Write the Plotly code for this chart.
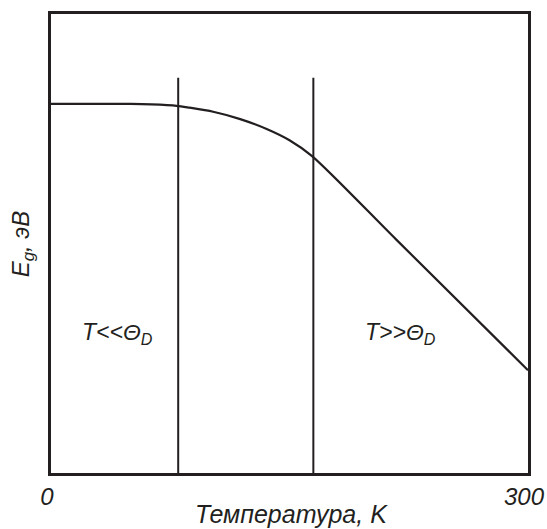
import plotly.graph_objects as go

# Curve E_g(T) (arbitrary units, axis has no ticks)
T_curve = [0, 30, 50, 63, 79, 87, 102, 119, 136, 150, 164, 217, 300]
Eg_curve = [0.804, 0.804, 0.804, 0.803, 0.800, 0.796, 0.787, 0.771, 0.749, 0.725, 0.691, 0.509, 0.224]

# Vertical boundary lines
boundary_T = [80, 165]
boundary_top = 0.861

x_ticks = [0, 300]
x_ticktext = ["0", "300"]

region_labels = ["T<<Θ<sub>D</sub>", "T>>Θ<sub>D</sub>"]
region_x = [42, 220]
region_y = [0.305, 0.305]

x_title = "Температура, K"
y_title = "E<sub>g</sub>, эВ"

ink = "#231f20"
FONT = "Liberation Sans, Arial, sans-serif"

fig = go.Figure()
fig.add_trace(go.Scatter(x=T_curve, y=Eg_curve, mode="lines",
                         line=dict(color=ink, width=2.2, shape="spline", smoothing=0.8),
                         hoverinfo="skip", showlegend=False))
for bt in boundary_T:
    fig.add_trace(go.Scatter(x=[bt, bt], y=[0, boundary_top], mode="lines",
                             line=dict(color=ink, width=2), hoverinfo="skip", showlegend=False))

for lab, lx, ly in zip(region_labels, region_x, region_y):
    fig.add_annotation(x=lx, y=ly, text=lab, showarrow=False,
                       font=dict(family=FONT, size=23, color=ink, style="italic"))

fig.add_annotation(xref="paper", yref="paper", x=0.505, y=-0.089, text=x_title,
                   showarrow=False, xanchor="center", yanchor="middle",
                   font=dict(family=FONT, size=25, color=ink, style="italic"))
fig.add_annotation(xref="paper", yref="paper", x=-0.059, y=0.5, text=y_title,
                   showarrow=False, xanchor="center", yanchor="middle", textangle=-90,
                   font=dict(family=FONT, size=24, color=ink, style="italic"))

fig.update_layout(
    width=547, height=529,
    margin=dict(l=51, r=19, t=14, b=56),
    paper_bgcolor="white", plot_bgcolor="white",
    font=dict(family=FONT, color=ink),
    xaxis=dict(range=[0, 300], tickvals=x_ticks, ticktext=x_ticktext,
               showgrid=False, zeroline=False, ticks="", automargin=False,
               ticklabeloverflow="allow", ticklabelshift=-4,
               showline=True, mirror=True, linecolor=ink, linewidth=2.5,
               tickfont=dict(size=24, style="italic", color=ink)),
    yaxis=dict(range=[0, 1], showticklabels=False, showgrid=False, zeroline=False, ticks="",
               automargin=False,
               showline=True, mirror=True, linecolor=ink, linewidth=2.5),
)

fig.write_html("out.html", config={"displayModeBar": False},
               post_script="document.body.style.margin='0';document.body.style.overflow='hidden';")
